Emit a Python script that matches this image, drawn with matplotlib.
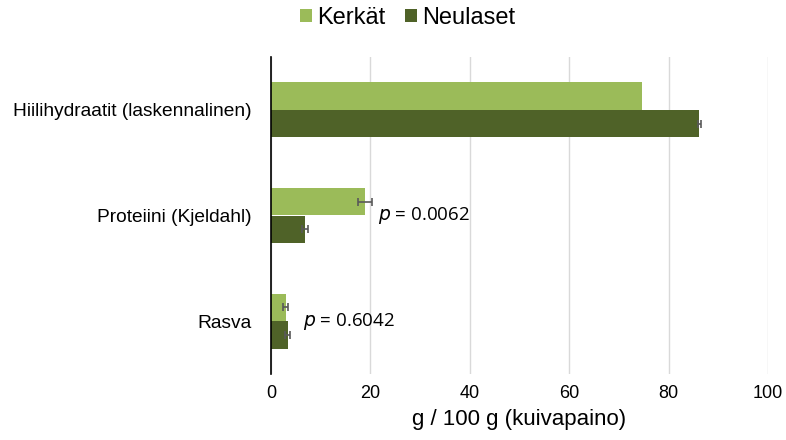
import matplotlib.pyplot as plt
import numpy as np

categories = ["Hiilihydraatit (laskennalinen)", "Proteiini (Kjeldahl)", "Rasva"]
kerkat = [74.6, 18.9, 3.0]
kerkat_err = [0.0, 1.4, 0.5]
neulaset = [86.2, 6.8, 3.4]
neulaset_err = [0.3, 0.6, 0.5]
p_values = [None, "0.0062", "0.6042"]
p_x = [None, 21.5, 6.4]

plt.rcParams["font.family"] = ["Liberation Sans", "DejaVu Sans"]

fig = plt.figure(figsize=(7.86, 4.4), dpi=100)
ax = fig.add_axes([271 / 786, 66 / 440, 497 / 786, 317 / 440])

y = np.arange(len(categories))
h = 0.26
ax.barh(y - h / 2, kerkat, height=h, color="#9BBB59", label="Kerkät", zorder=3)
ax.barh(y + h / 2, neulaset, height=h, color="#4F6228", label="Neulaset", zorder=3)

# error bars only where a value was reported
err_kw = dict(fmt="none", ecolor="#595959", elinewidth=1.2, capsize=3, capthick=1.2, zorder=4)
for offset, vals, errs in [(-h / 2, kerkat, kerkat_err), (h / 2, neulaset, neulaset_err)]:
    idx = [i for i, e in enumerate(errs) if e > 0]
    ax.errorbar([vals[i] for i in idx], [y[i] + offset for i in idx],
                xerr=[errs[i] for i in idx], **err_kw)

for yi, (pv, px) in enumerate(zip(p_values, p_x)):
    if pv:
        ax.text(px, yi, f"$\\it{{p}}$ = {pv}", va="center", ha="left",
                fontsize=13.5, family=["Open Sans", "DejaVu Sans"], zorder=4)

ax.set_xlim(0, 100)
ax.set_ylim(len(categories) - 0.5, -0.5)
ax.set_yticks(y)
ax.set_yticklabels(categories, fontsize=13.8)
ax.set_xticks(range(0, 101, 20))
ax.tick_params(axis="x", labelsize=13, length=0, pad=8)
ax.tick_params(axis="y", length=0, pad=14)
ax.grid(axis="x", color="#D9D9D9", linewidth=1, zorder=0)
for s in ["top", "right", "bottom"]:
    ax.spines[s].set_visible(False)
ax.spines["left"].set_color("black")
ax.spines["left"].set_linewidth(1.2)
ax.spines["left"].set_zorder(5)
ax.set_xlabel("g / 100 g (kuivapaino)", fontsize=16, labelpad=5)

fig.legend(*ax.get_legend_handles_labels(), loc="center",
           bbox_to_anchor=(407.5 / 786, 1 - 18 / 440), ncol=2, frameon=False,
           fontsize=17, handlelength=0.5, handleheight=0.5,
           handletextpad=0.2, columnspacing=0.85)

fig.savefig("out.png", dpi=100)
